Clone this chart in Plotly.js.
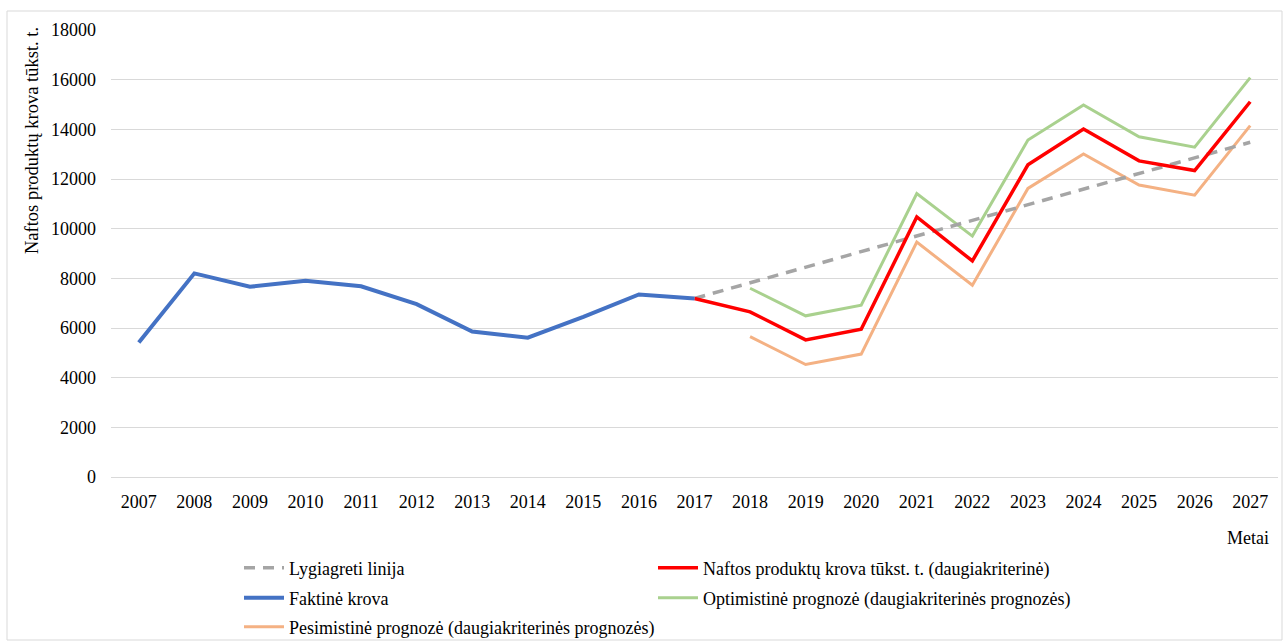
<!DOCTYPE html>
<html>
<head>
<meta charset="utf-8">
<script src="https://cdn.plot.ly/plotly-3.0.1.min.js"></script>
<style>html,body{margin:0;padding:0;background:#fff;}#chart{width:1285px;height:644px;}</style>
</head>
<body>
<div id="chart"></div>
<script>
const yearsActual = [2007, 2008, 2009, 2010, 2011, 2012, 2013, 2014, 2015, 2016, 2017];
const actualLoad = [5420, 8200, 7660, 7900, 7680, 6960, 5860, 5610, 6450, 7350, 7190];

const yearsTrend = [2017, 2018, 2019, 2020, 2021, 2022, 2023, 2024, 2025, 2026, 2027];
const trendLine = [7190, 7820, 8440, 9070, 9710, 10330, 10960, 11590, 12220, 12850, 13480];

const yearsMulti = [2017, 2018, 2019, 2020, 2021, 2022, 2023, 2024, 2025, 2026, 2027];
const multiCriteria = [7190, 6650, 5520, 5950, 10470, 8700, 12570, 14010, 12730, 12340, 15110];

const yearsScen = [2018, 2019, 2020, 2021, 2022, 2023, 2024, 2025, 2026, 2027];
const optimistic = [7600, 6490, 6920, 11410, 9700, 13570, 14980, 13700, 13280, 16080];
const pessimistic = [5650, 4530, 4950, 9460, 7720, 11620, 13010, 11760, 11350, 14150];

const tickYears = [2007, 2008, 2009, 2010, 2011, 2012, 2013, 2014, 2015, 2016, 2017,
                   2018, 2019, 2020, 2021, 2022, 2023, 2024, 2025, 2026, 2027];

const names = {
  trend: 'Lygiagreti linija',
  multi: 'Naftos produktų krova tūkst. t. (daugiakriterinė)',
  actual: 'Faktinė krova',
  opt: 'Optimistinė prognozė (daugiakriterinės prognozės)',
  pes: 'Pesimistinė prognozė (daugiakriterinės prognozės)'
};

const W = 1285, H = 644;
const L = 111, R = 1278, T = 30, B = 477;
const pw = R - L, ph = B - T;
const px = v => (v - L) / pw;
const py = v => (B - v) / ph;

const FONT = 'Liberation Serif, Times New Roman, serif';
const FS = 18;
const TXT = '#000';

const traces = [
  {x: yearsScen, y: optimistic, name: names.opt, mode: 'lines', line: {color: '#A9D18E', width: 3}, legend: 'legend4'},
  {x: yearsScen, y: pessimistic, name: names.pes, mode: 'lines', line: {color: '#F4B183', width: 3}, legend: 'legend5'},
  {x: yearsTrend, y: trendLine, name: names.trend, mode: 'lines', line: {color: '#A5A5A5', width: 3.5, dash: '11px,8px'}, legend: 'legend'},
  {x: yearsMulti, y: multiCriteria, name: names.multi, mode: 'lines', line: {color: '#FF0000', width: 3.5}, legend: 'legend2'},
  {x: yearsActual, y: actualLoad, name: names.actual, mode: 'lines', line: {color: '#4472C4', width: 4}, legend: 'legend3'}
];

const legendBase = {
  orientation: 'h', xanchor: 'left', yanchor: 'middle',
  font: {family: FONT, size: FS, color: TXT},
  bgcolor: 'rgba(0,0,0,0)', itemwidth: 40
};
const leg = (xp, yp) => Object.assign({}, legendBase, {x: px(xp), y: py(yp)});

const layout = {
  width: W, height: H,
  margin: {l: L, r: W - R, t: T, b: H - B, autoexpand: false},
  paper_bgcolor: '#fff', plot_bgcolor: '#fff',
  font: {family: FONT, size: FS, color: TXT},
  showlegend: true,
  legend: leg(239, 568),
  legend2: leg(653, 568),
  legend3: leg(239, 598),
  legend4: leg(653, 598),
  legend5: leg(239, 627),
  xaxis: {
    range: [2006.5, 2027.5], tickvals: tickYears, ticktext: tickYears.map(String),
    showgrid: false, zeroline: false, showline: true, linecolor: '#d9d9d9', linewidth: 1,
    ticks: '', ticklabelstandoff: 8,
    tickfont: {family: FONT, size: FS, color: TXT}, fixedrange: true
  },
  yaxis: {
    range: [0, 18000], dtick: 2000, tick0: 0, tickformat: 'd',
    showgrid: true, gridcolor: '#d9d9d9', gridwidth: 1, zeroline: false, showline: false,
    ticks: '', ticklabelstandoff: 14,
    tickfont: {family: FONT, size: FS, color: TXT}, fixedrange: true
  },
  annotations: [
    {text: 'Naftos produktų krova tūkst. t.', xref: 'paper', yref: 'paper',
     x: px(32), y: py(141), textangle: -90, showarrow: false,
     xanchor: 'center', yanchor: 'middle', font: {family: FONT, size: 18.5, color: TXT}},
    {text: 'Metai', xref: 'paper', yref: 'paper', x: px(1271), y: py(538),
     showarrow: false, xanchor: 'right', yanchor: 'middle',
     font: {family: FONT, size: FS, color: TXT}}
  ],
  shapes: [
    {type: 'rect', xref: 'paper', yref: 'paper', x0: px(7), x1: px(1282), y0: py(640), y1: py(11),
     line: {color: '#d9d9d9', width: 1}, fillcolor: 'rgba(0,0,0,0)', layer: 'below'}
  ]
};

Plotly.newPlot('chart', traces, layout, {staticPlot: true, displayModeBar: false});
</script>
</body>
</html>
